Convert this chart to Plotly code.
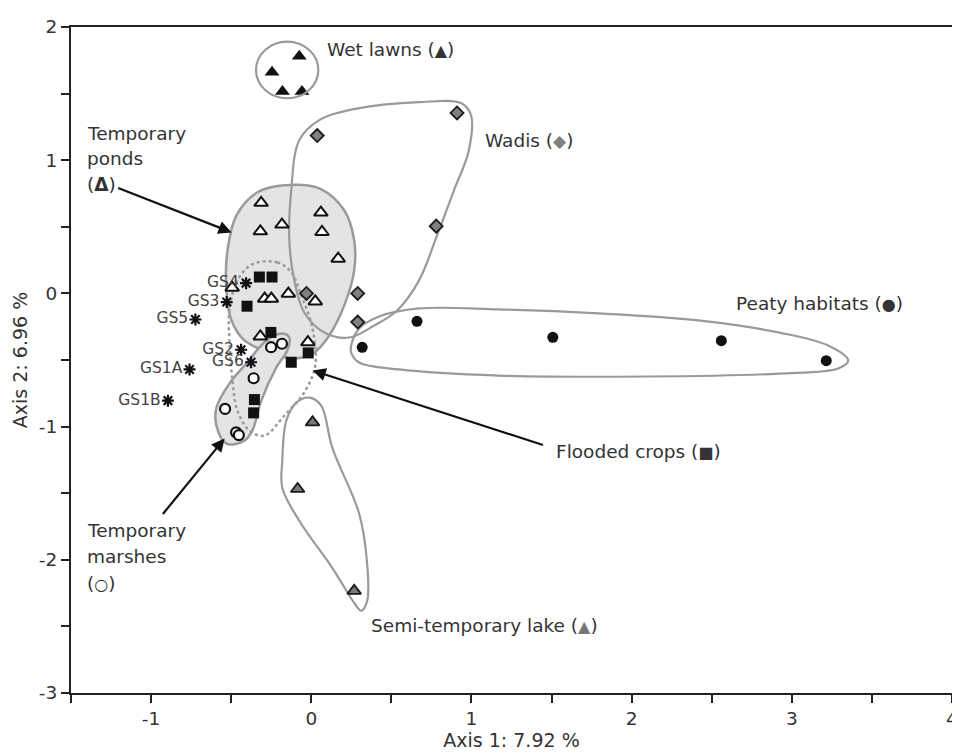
import plotly.graph_objects as go

# ---------------- data (ordination scores) ----------------
wet_x = [-0.075, -0.245, -0.18, -0.058]
wet_y = [1.78, 1.66, 1.515, 1.515]

wadi_x = [0.037, 0.91, 0.78, 0.29, 0.29, -0.03]
wadi_y = [1.185, 1.355, 0.505, 0.0, -0.215, 0.0]

peat_x = [0.318, 0.66, 1.508, 2.56, 3.215]
peat_y = [-0.405, -0.21, -0.33, -0.355, -0.505]

pond_x = [-0.313, -0.318, -0.183, 0.060, 0.067, 0.168, -0.494, -0.291, -0.249, -0.143, 0.025, -0.318, -0.021]
pond_y = [0.68, 0.466, 0.517, 0.607, 0.461, 0.261, 0.043, -0.04, -0.04, -0.002, -0.06, -0.323, -0.366]

crop_x = [-0.324, -0.245, -0.401, -0.252, -0.125, -0.019, -0.355, -0.360]
crop_y = [0.123, 0.123, -0.096, -0.293, -0.517, -0.447, -0.797, -0.897]

marsh_x = [-0.251, -0.183, -0.360, -0.538, -0.469, -0.452]
marsh_y = [-0.404, -0.378, -0.637, -0.867, -1.043, -1.064]

lake_x = [0.008, -0.085, 0.268]
lake_y = [-0.968, -1.468, -2.233]

gs_labels = ["GS4", "GS3", "GS5", "GS2", "GS6", "GS1A", "GS1B"]
gs_x = [-0.407, -0.528, -0.723, -0.438, -0.376, -0.760, -0.895]
gs_y = [0.077, -0.065, -0.196, -0.423, -0.517, -0.571, -0.805]

# hull outlines (data units)
pond_hull_x = [-0.168, 0.050, 0.206, 0.268, 0.268, 0.206, 0.112, 0.019, -0.106, -0.262, -0.417, -0.498, -0.530, -0.523, -0.467, -0.336]
pond_hull_y = [0.812, 0.789, 0.624, 0.398, 0.173, -0.090, -0.316, -0.444, -0.489, -0.444, -0.353, -0.203, 0.023, 0.323, 0.586, 0.759]

marsh_hull_x = [-0.181, -0.137, -0.150, -0.218, -0.312, -0.368, -0.417, -0.530, -0.592, -0.592, -0.511, -0.405, -0.280]
marsh_hull_y = [-0.301, -0.331, -0.429, -0.556, -0.805, -1.030, -1.105, -1.128, -0.993, -0.857, -0.677, -0.526, -0.353]

crop_hull_x = [-0.368, -0.212, -0.125, -0.062, 0.006, 0.025, -0.044, -0.168, -0.293, -0.386, -0.461, -0.492, -0.511, -0.511, -0.461]
crop_hull_y = [0.218, 0.233, 0.158, -0.015, -0.256, -0.541, -0.744, -0.917, -1.068, -1.030, -0.880, -0.654, -0.353, -0.128, 0.098]

wadi_hull_x = [-0.075, 0.050, 0.299, 0.673, 0.935, 0.997, 0.984, 0.891, 0.785, 0.673, 0.536, 0.393, 0.237, 0.081, -0.044, -0.106, -0.137, -0.125]
wadi_hull_y = [1.150, 1.301, 1.391, 1.436, 1.429, 1.338, 1.075, 0.774, 0.436, 0.098, -0.128, -0.241, -0.331, -0.293, -0.143, 0.098, 0.398, 0.774]

peat_hull_x = [0.249, 0.299, 0.424, 0.673, 1.171, 1.794, 2.417, 2.916, 3.227, 3.352, 3.290, 2.916, 2.106, 1.171, 0.548, 0.299, 0.249]
peat_hull_y = [-0.391, -0.263, -0.173, -0.113, -0.120, -0.150, -0.203, -0.293, -0.391, -0.504, -0.564, -0.602, -0.624, -0.617, -0.571, -0.519, -0.444]

lake_hull_x = [-0.093, -0.012, 0.062, 0.131, 0.299, 0.349, 0.349, 0.312, 0.268, 0.131, -0.075, -0.181, -0.181, -0.156]
lake_hull_y = [-0.820, -0.782, -0.842, -1.158, -1.654, -2.030, -2.308, -2.383, -2.323, -2.060, -1.707, -1.459, -1.256, -0.955]

wet_circle = dict(x0=-0.345, x1=0.044, y0=1.465, y1=1.89)

x_ticks = [-1.5, -1, -0.5, 0, 0.5, 1, 1.5, 2, 2.5, 3, 3.5, 4]
y_ticks = [-3, -2.5, -2, -1.5, -1, -0.5, 0, 0.5, 1, 1.5, 2]

HULL = "#9a9a9a"
FILL = "#e4e4e4"
FONT = "DejaVu Sans, Liberation Sans, sans-serif"
TXT = "#333333"


def closed(a):
    return list(a) + [a[0]]


fig = go.Figure()

# filled hulls
for hx, hy in [(pond_hull_x, pond_hull_y), (marsh_hull_x, marsh_hull_y)]:
    fig.add_trace(go.Scatter(x=closed(hx), y=closed(hy), mode="lines", fill="toself",
                             fillcolor=FILL, line=dict(color=HULL, width=2.5, shape="spline", smoothing=1),
                             hoverinfo="skip", showlegend=False))
# outline hulls
for hx, hy in [(wadi_hull_x, wadi_hull_y), (peat_hull_x, peat_hull_y), (lake_hull_x, lake_hull_y)]:
    fig.add_trace(go.Scatter(x=closed(hx), y=closed(hy), mode="lines",
                             line=dict(color=HULL, width=2.2, shape="spline", smoothing=1),
                             hoverinfo="skip", showlegend=False))
fig.add_trace(go.Scatter(x=closed(crop_hull_x), y=closed(crop_hull_y), mode="lines",
                         line=dict(color=HULL, width=2.5, dash="dot", shape="spline", smoothing=1),
                         hoverinfo="skip", showlegend=False))

fig.add_shape(type="circle", xref="x", yref="y", line=dict(color=HULL, width=2.2), **wet_circle)


def pts(x, y, symbol, size, fill, lcolor="#111", lw=0):
    fig.add_trace(go.Scatter(x=x, y=y, mode="markers", showlegend=False,
                             marker=dict(symbol=symbol, size=size, color=fill,
                                         line=dict(color=lcolor, width=lw))))


pts(wet_x, wet_y, "triangle-up", 13, "#111")
pts(wadi_x, wadi_y, "diamond", 10, "#808080", "#1a1a1a", 1.8)
pts(peat_x, peat_y, "circle", 11, "#111")
pts(pond_x, pond_y, "triangle-up", 12, "white", "#111", 2)
pts(crop_x, crop_y, "square", 11, "#111")
pts(marsh_x, marsh_y, "circle", 10, "white", "#111", 2.2)
pts(lake_x, lake_y, "triangle-up", 12, "#7a7a7a", "#1a1a1a", 1.8)

fig.add_trace(go.Scatter(x=gs_x, y=gs_y, mode="markers+text", text=gs_labels,
                         textposition="middle left", textfont=dict(family=FONT, size=15.5, color="#444"),
                         marker=dict(symbol="asterisk-open", size=10, color="#111", line=dict(color="#111", width=2.2)),
                         showlegend=False))


def sym(ch, size, color=None, bold=False):
    style = "font-size:%dpx" % size
    if color:
        style += ";color:%s" % color
    s = "<span style='%s'>%s</span>" % (style, ch)
    return "<b>%s</b>" % s if bold else s


# text labels
labels = [
    ("Wet lawns (" + sym("▲", 16) + ")", 0.083, 1.83),
    ("Wadis (" + sym("◆", 17, "#808080") + ")", 1.075, 1.15),
    ("Temporary", -1.415, 1.20),
    ("ponds", -1.415, 1.01),
    ("(<b>Δ</b>)", -1.415, 0.82),
    ("Peaty habitats (" + sym("●", 16) + ")", 2.642, -0.075),
    ("Flooded crops (" + sym("■", 16) + ")", 1.518, -1.19),
    ("Temporary", -1.415, -1.78),
    ("marshes", -1.415, -1.975),
    ("(" + sym("○", 16, bold=True) + ")", -1.415, -2.18),
    ("Semi-temporary lake (" + sym("▲", 16, "#777") + ")", 0.358, -2.49),
]
for t, x, y in labels:
    fig.add_annotation(text=t, x=x, y=y, xref="x", yref="y", showarrow=False,
                       xanchor="left", yanchor="middle", font=dict(family=FONT, size=18.5, color=TXT))

arrows = [
    (-1.215, 0.795, -0.497, 0.458),
    (1.456, -1.142, 0.008, -0.578),
    (-0.934, -1.667, -0.541, -1.089),
]
for ax, ay, x, y in arrows:
    fig.add_annotation(x=x, y=y, ax=ax, ay=ay, xref="x", yref="y", axref="x", ayref="y",
                       text="", showarrow=True, arrowhead=2, arrowsize=1.2, arrowwidth=2.2,
                       arrowcolor="#111", standoff=0)

axis_common = dict(showgrid=False, zeroline=False, showline=True, linecolor="#222", linewidth=2,
                   mirror=True, ticks="outside", ticklen=8, tickwidth=2, tickcolor="#222",
                   tickfont=dict(family=FONT, size=18.5, color=TXT))

fig.update_xaxes(range=[-1.5, 4], tickvals=x_ticks,
                 ticktext=[("%g" % v) if float(v).is_integer() else "" for v in x_ticks],
                 title=dict(text="Axis 1: 7.92 %", font=dict(family=FONT, size=19, color=TXT), standoff=4),
                 **axis_common)
fig.update_yaxes(range=[-3, 2], tickvals=y_ticks,
                 ticktext=[("%g" % v) if float(v).is_integer() else "" for v in y_ticks],
                 title=dict(text="Axis 2: 6.96 %", font=dict(family=FONT, size=19, color=TXT), standoff=6),
                 **axis_common)

# page body has an 8px margin; size the figure so the plot frame lands where the reference has it
fig.update_layout(width=960, height=748, margin=dict(l=63, r=16, t=19, b=63, autoexpand=False),
                  plot_bgcolor="white", paper_bgcolor="white", showlegend=False)

fig.write_html("out.html")
